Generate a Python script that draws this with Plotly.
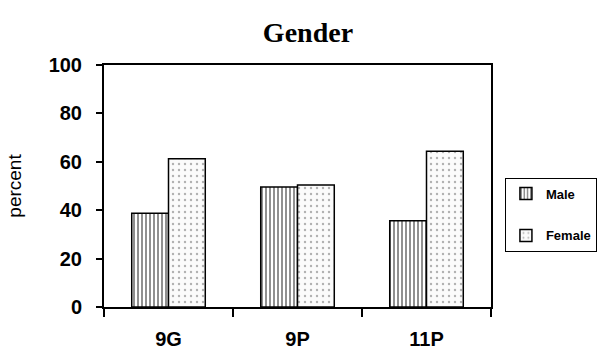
import plotly.graph_objects as go

# Survey groups and the share of each gender (percent)
groups = ["9G", "9P", "11P"]
male = [38.7, 49.6, 35.6]
female = [61.3, 50.4, 64.4]

fig = go.Figure()
fig.add_trace(go.Bar(
    x=groups, y=male, name="Male", legendgroup="m",
    marker=dict(color="white", line=dict(color="black", width=1.5),
                pattern=dict(shape="|", size=4, solidity=0.5,
                             fgcolor="#222222", bgcolor="white")),
))
fig.add_trace(go.Bar(
    x=groups, y=female, name="Female", legendgroup="f",
    marker=dict(color="white", line=dict(color="black", width=1.5),
                pattern=dict(shape=".", size=6, solidity=0.12,
                             fgcolor="#666666", bgcolor="#fbfbfb")),
))

fig.update_layout(
    width=598, height=354,
    margin=dict(l=104, r=107, t=65, b=47, autoexpand=False),
    paper_bgcolor="white", plot_bgcolor="white",
    barmode="group", bargap=0.43, bargroupgap=0,
    showlegend=True,
    title=dict(text="<b>Gender</b>", x=0.515, xanchor="center",
               y=0.91, yanchor="middle",
               font=dict(family="Liberation Serif", size=28, color="black")),
    legend=dict(x=1.036, xanchor="left", y=0.535, yanchor="top",
                bordercolor="black", borderwidth=1, bgcolor="white",
                tracegroupgap=22, itemwidth=30,
                font=dict(family="Liberation Sans", size=13, color="black",
                          weight="bold")),
    font=dict(family="Liberation Sans", color="black"),
)

fig.update_xaxes(
    showline=True, linecolor="black", linewidth=2, mirror=True,
    ticks="outside", tickson="boundaries", ticklen=8, tickwidth=2,
    tickcolor="black", showgrid=False,
    tickfont=dict(family="Liberation Sans", size=20, color="black",
                  weight="bold"),
    ticklabelstandoff=13,
)
fig.update_yaxes(
    range=[0, 100], dtick=20,
    showline=True, linecolor="black", linewidth=2, mirror=True,
    ticks="outside", ticklen=6, tickwidth=1.5, tickcolor="black",
    showgrid=False, zeroline=False,
    tickfont=dict(family="Liberation Sans", size=20, color="black",
                  weight="bold"),
    ticklabelstandoff=10,
    title=dict(text="percent", standoff=22,
               font=dict(family="Liberation Sans", size=19, color="black")),
)

fig.write_html("out.html")
